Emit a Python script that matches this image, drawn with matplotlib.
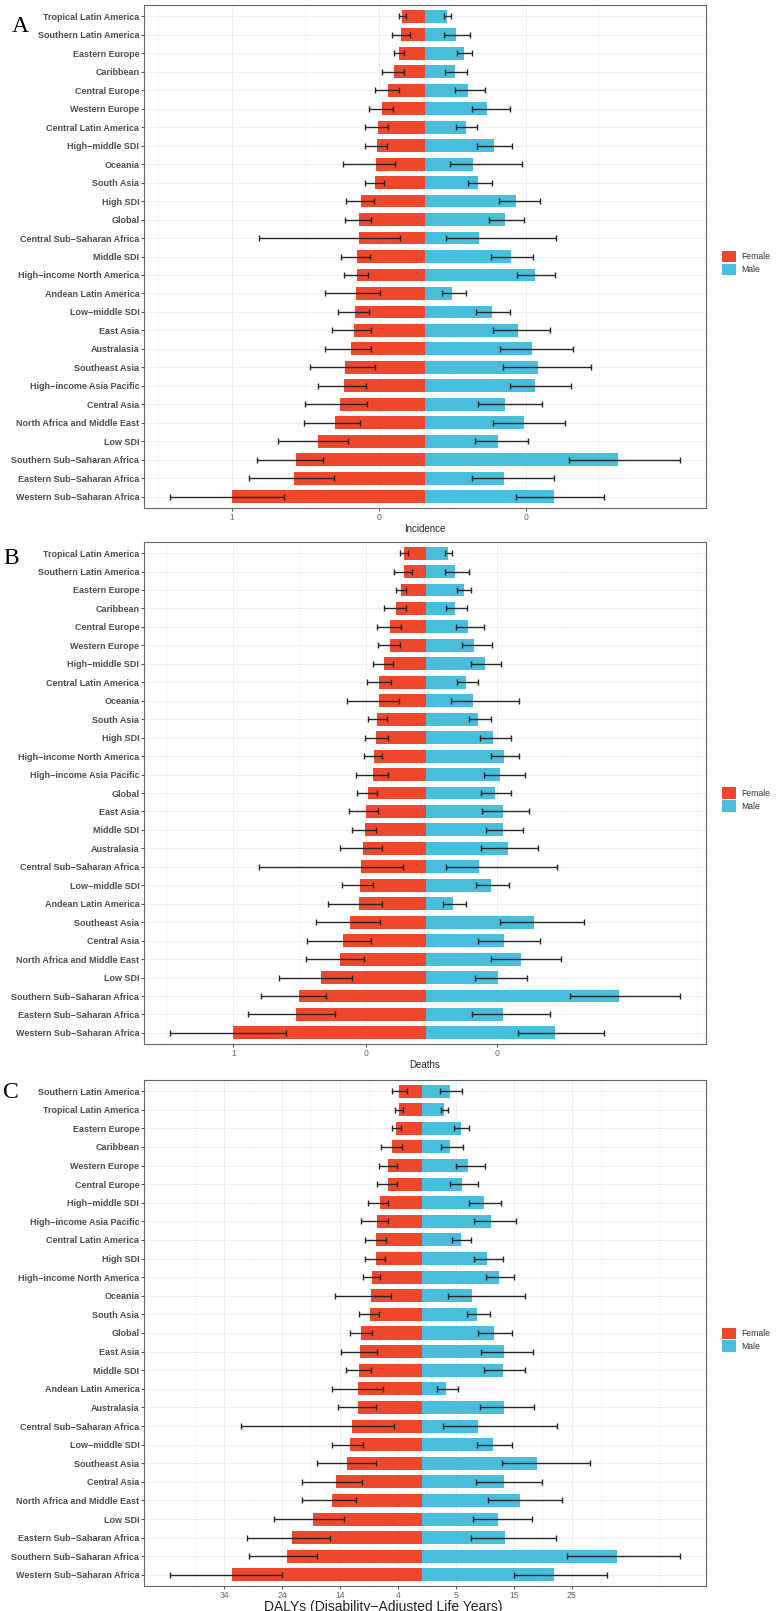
import numpy as np
import matplotlib
matplotlib.use('Agg')
from matplotlib import pyplot as plt
from matplotlib.ticker import FixedLocator

# values (scaled units), female given as magnitudes

# ---- A : incidence ----
inc_regions = ['Tropical Latin America', 'Southern Latin America', 'Eastern Europe', 'Caribbean',
               'Central Europe', 'Western Europe', 'Central Latin America', 'High−middle SDI',
               'Oceania', 'South Asia', 'High SDI', 'Global', 'Central Sub−Saharan Africa',
               'Middle SDI', 'High−income North America', 'Andean Latin America', 'Low−middle SDI',
               'East Asia', 'Australasia', 'Southeast Asia', 'High−income Asia Pacific',
               'Central Asia', 'North Africa and Middle East', 'Low SDI',
               'Southern Sub−Saharan Africa', 'Eastern Sub−Saharan Africa', 'Western Sub−Saharan Africa']
inc_female = [0.226, 0.240, 0.260, 0.310, 0.373, 0.429, 0.473, 0.479, 0.493, 0.503, 0.643, 0.656, 0.656, 0.683,
              0.683, 0.689, 0.696, 0.706, 0.743, 0.803, 0.813, 0.849, 0.899, 1.073, 1.289, 1.309, 1.933]
inc_female_lo = [0.186, 0.153, 0.210, 0.210, 0.263, 0.323, 0.369, 0.383, 0.296, 0.409, 0.506, 0.539, 0.246, 0.549,
                 0.573, 0.446, 0.556, 0.539, 0.536, 0.503, 0.589, 0.583, 0.649, 0.766, 1.016, 0.913, 1.413]
inc_female_hi = [0.263, 0.333, 0.310, 0.430, 0.496, 0.556, 0.596, 0.599, 0.823, 0.599, 0.793, 0.799, 1.663, 0.839,
                 0.806, 0.996, 0.869, 0.929, 0.999, 1.146, 1.073, 1.199, 1.206, 1.473, 1.679, 1.759, 2.556]
inc_male = [0.224, 0.307, 0.390, 0.300, 0.427, 0.624, 0.407, 0.687, 0.484, 0.534, 0.910, 0.800, 0.537, 0.857,
            1.097, 0.270, 0.674, 0.927, 1.074, 1.130, 1.100, 0.800, 0.990, 0.727, 1.934, 0.790, 1.294]
inc_male_lo = [0.190, 0.194, 0.324, 0.200, 0.304, 0.467, 0.314, 0.520, 0.254, 0.434, 0.740, 0.637, 0.207, 0.660,
               0.924, 0.174, 0.514, 0.677, 0.747, 0.784, 0.850, 0.534, 0.677, 0.497, 1.444, 0.470, 0.910]
inc_male_hi = [0.260, 0.454, 0.470, 0.424, 0.597, 0.850, 0.517, 0.874, 0.974, 0.667, 1.154, 0.994, 1.310, 1.084,
               1.297, 0.407, 0.850, 1.247, 1.484, 1.657, 1.464, 1.167, 1.404, 1.030, 2.557, 1.287, 1.790]
inc_ticks = [-1.933, -0.463, 1.007]
inc_ticklabels = ['1', '0', '0']

# ---- B : deaths ----
dth_regions = ['Tropical Latin America', 'Southern Latin America', 'Eastern Europe', 'Caribbean',
               'Central Europe', 'Western Europe', 'High−middle SDI', 'Central Latin America',
               'Oceania', 'South Asia', 'High SDI', 'High−income North America',
               'High−income Asia Pacific', 'Global', 'East Asia', 'Middle SDI', 'Australasia',
               'Central Sub−Saharan Africa', 'Low−middle SDI', 'Andean Latin America',
               'Southeast Asia', 'Central Asia', 'North Africa and Middle East', 'Low SDI',
               'Southern Sub−Saharan Africa', 'Eastern Sub−Saharan Africa', 'Western Sub−Saharan Africa']
dth_female = [0.224, 0.230, 0.257, 0.307, 0.367, 0.367, 0.430, 0.474, 0.474, 0.494, 0.505, 0.525, 0.535, 0.587,
              0.607, 0.617, 0.638, 0.659, 0.669, 0.679, 0.762, 0.833, 0.864, 1.060, 1.272, 1.309, 1.931]
dth_female_lo = [0.184, 0.150, 0.207, 0.204, 0.260, 0.267, 0.340, 0.357, 0.280, 0.400, 0.387, 0.450, 0.384, 0.494,
                 0.484, 0.505, 0.443, 0.237, 0.535, 0.443, 0.463, 0.556, 0.628, 0.741, 1.004, 0.914, 1.402]
dth_female_hi = [0.264, 0.324, 0.307, 0.430, 0.494, 0.484, 0.535, 0.597, 0.792, 0.587, 0.617, 0.627, 0.710, 0.700,
                 0.772, 0.741, 0.864, 1.677, 0.844, 0.987, 1.101, 1.193, 1.204, 1.471, 1.655, 1.781, 2.570]
dth_male = [0.216, 0.290, 0.373, 0.283, 0.413, 0.480, 0.590, 0.396, 0.466, 0.516, 0.670, 0.780, 0.740, 0.683,
            0.766, 0.766, 0.813, 0.526, 0.643, 0.270, 1.073, 0.780, 0.950, 0.720, 1.923, 0.766, 1.283]
dth_male_lo = [0.183, 0.183, 0.310, 0.193, 0.293, 0.353, 0.446, 0.306, 0.243, 0.423, 0.533, 0.650, 0.573, 0.543,
               0.553, 0.596, 0.550, 0.200, 0.493, 0.170, 0.740, 0.513, 0.646, 0.486, 1.440, 0.460, 0.917]
dth_male_hi = [0.253, 0.426, 0.443, 0.410, 0.573, 0.660, 0.743, 0.513, 0.926, 0.643, 0.846, 0.923, 0.986, 0.850,
               1.030, 0.966, 1.113, 1.303, 0.826, 0.400, 1.576, 1.133, 1.350, 1.010, 2.540, 1.240, 1.779]
dth_ticks = [-1.932, -0.607, 0.708]
dth_ticklabels = ['1', '0', '0']

# ---- C : DALYs ----
daly_regions = ['Southern Latin America', 'Tropical Latin America', 'Eastern Europe', 'Caribbean',
                'Western Europe', 'Central Europe', 'High−middle SDI', 'High−income Asia Pacific',
                'Central Latin America', 'High SDI', 'High−income North America', 'Oceania',
                'South Asia', 'Global', 'East Asia', 'Middle SDI', 'Andean Latin America',
                'Australasia', 'Central Sub−Saharan Africa', 'Low−middle SDI', 'Southeast Asia',
                'Central Asia', 'North Africa and Middle East', 'Low SDI',
                'Eastern Sub−Saharan Africa', 'Southern Sub−Saharan Africa', 'Western Sub−Saharan Africa']
daly_female = [0.226, 0.232, 0.258, 0.302, 0.338, 0.342, 0.421, 0.452, 0.463, 0.463, 0.504, 0.514, 0.524, 0.606,
               0.617, 0.627, 0.637, 0.637, 0.699, 0.720, 0.750, 0.863, 0.900, 1.086, 1.304, 1.350, 1.900]
daly_female_lo = [0.152, 0.192, 0.208, 0.205, 0.255, 0.248, 0.342, 0.338, 0.358, 0.375, 0.422, 0.308, 0.432, 0.504,
                  0.452, 0.514, 0.391, 0.463, 0.277, 0.586, 0.463, 0.596, 0.657, 0.782, 0.921, 1.050, 1.404]
daly_female_hi = [0.305, 0.268, 0.305, 0.408, 0.432, 0.452, 0.545, 0.606, 0.575, 0.575, 0.586, 0.874, 0.627, 0.720,
                  0.812, 0.761, 0.905, 0.843, 1.809, 0.905, 1.048, 1.203, 1.200, 1.479, 1.750, 1.732, 2.525]
daly_male = [0.277, 0.220, 0.386, 0.283, 0.460, 0.396, 0.623, 0.686, 0.390, 0.646, 0.766, 0.496, 0.550, 0.720,
             0.816, 0.810, 0.243, 0.823, 0.563, 0.710, 1.150, 0.820, 0.983, 0.756, 0.830, 1.953, 1.323]
daly_male_lo = [0.176, 0.186, 0.323, 0.186, 0.343, 0.280, 0.466, 0.523, 0.303, 0.516, 0.640, 0.256, 0.450, 0.563,
                0.586, 0.616, 0.153, 0.583, 0.213, 0.550, 0.803, 0.543, 0.660, 0.510, 0.490, 1.450, 0.916]
daly_male_hi = [0.403, 0.260, 0.466, 0.413, 0.630, 0.556, 0.793, 0.936, 0.486, 0.810, 0.916, 1.026, 0.683, 0.903,
                1.106, 1.033, 0.356, 1.123, 1.353, 0.903, 1.680, 1.200, 1.397, 1.096, 1.340, 2.583, 1.844]
daly_ticks = [-1.978, -1.399, -0.820, -0.241, 0.338, 0.917, 1.496]
daly_ticklabels = ['34', '24', '14', '4', '5', '15', '25']

RED = '#EF472C'
BLUE = '#47BEDC'
W, H = 778, 1611


def draw_panel(ax, regions, f, f_lo, f_hi, m, m_lo, m_hi, ticks, ticklabels, xlabel):
    y = np.arange(len(regions))
    f = np.array(f); f_lo = np.array(f_lo); f_hi = np.array(f_hi)
    m = np.array(m); m_lo = np.array(m_lo); m_hi = np.array(m_hi)

    ax.barh(y, -f, height=0.7, color=RED, label='Female', zorder=2)
    ax.barh(y, m, height=0.7, color=BLUE, label='Male', zorder=2)
    # intervals are not centred on the bars, so draw them from their own midpoints
    ax.errorbar(-(f_lo + f_hi) / 2, y, xerr=(f_hi - f_lo) / 2, fmt='none', ecolor='#262626',
                elinewidth=1.0, capsize=2.0, capthick=1.0, zorder=3)
    ax.errorbar((m_lo + m_hi) / 2, y, xerr=(m_hi - m_lo) / 2, fmt='none', ecolor='#262626',
                elinewidth=1.0, capsize=2.0, capthick=1.0, zorder=3)

    # ggplot style 5% expansion
    lo = (-f_hi).min()
    hi = m_hi.max()
    pad = 0.05 * (hi - lo)
    ax.set_xlim(lo - pad, hi + pad)
    ax.set_ylim(len(regions) - 0.4, -0.6)

    sp = ticks[1] - ticks[0]
    minor = np.arange(ticks[0] - 5.5 * sp, ticks[-1] + 5.5 * sp, sp)
    minor = minor[(minor > lo - pad) & (minor < hi + pad)]
    ax.xaxis.set_major_locator(FixedLocator(ticks))
    ax.xaxis.set_minor_locator(FixedLocator(minor))
    ax.set_xticklabels(ticklabels)
    ax.set_yticks(y)
    ax.set_yticklabels(regions, fontsize=6.5, fontweight='bold', color='#4D4D4D')

    ax.grid(which='major', color='#EBEBEB', linewidth=0.6, zorder=0)
    ax.grid(which='minor', axis='x', color='#F3F3F3', linewidth=0.4, zorder=0)
    ax.set_axisbelow(True)
    ax.tick_params(axis='both', which='major', length=2.2, width=0.6, color='#333333', pad=1.2)
    ax.tick_params(axis='x', which='minor', length=0)
    ax.tick_params(axis='x', labelsize=6.2, labelcolor='#666666')
    for s in ax.spines.values():
        s.set_color('#666666')
        s.set_linewidth(0.8)
    ax.set_xlabel(xlabel, fontsize=7, color='#222222', labelpad=2)
    ax.legend(loc='center left', bbox_to_anchor=(1.028, 0.487), frameon=False, fontsize=6.2,
              handlelength=1.66, handleheight=1.66, labelspacing=0.15, handletextpad=0.6,
              borderpad=0, borderaxespad=0, labelcolor='#333333')


plt.rcParams['font.family'] = ['Liberation Sans', 'DejaVu Sans']
fig = plt.figure(figsize=(W / 100, H / 100), dpi=100)

# axes boxes in pixels (left, top, right, bottom)
boxes = [(144, 5, 706, 508), (144, 542, 706, 1044), (144, 1080, 706, 1586)]
axes = []
for l, t, r, b in boxes:
    axes.append(fig.add_axes([l / W, 1 - b / H, (r - l) / W, (b - t) / H]))

draw_panel(axes[0], inc_regions, inc_female, inc_female_lo, inc_female_hi,
           inc_male, inc_male_lo, inc_male_hi, inc_ticks, inc_ticklabels, 'Incidence')
draw_panel(axes[1], dth_regions, dth_female, dth_female_lo, dth_female_hi,
           dth_male, dth_male_lo, dth_male_hi, dth_ticks, dth_ticklabels, 'Deaths')
draw_panel(axes[2], daly_regions, daly_female, daly_female_lo, daly_female_hi,
           daly_male, daly_male_lo, daly_male_hi, daly_ticks, daly_ticklabels,
           'DALYs (Disability−Adjusted Life Years)')
axes[2].xaxis.label.set_fontsize(10)
axes[2].xaxis.set_label_coords((383 - 144) / 562, -0.028)

for lab, x, yc in [('A', 12, 26), ('B', 3, 559), ('C', 3, 1093)]:
    fig.text(x / W, 1 - yc / H, lab, fontsize=17, family='Liberation Serif', va='center', ha='left')

fig.savefig('out.png', dpi=100)
